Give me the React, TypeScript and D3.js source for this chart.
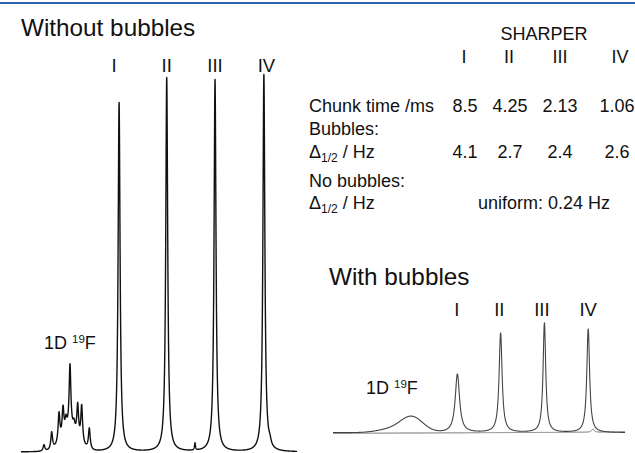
import React from "react";
import * as d3 from "d3";

// ---------- data ----------
const romanLabels = ["I", "II", "III", "IV"];

// Without bubbles: SHARPER peaks (position, height, half-width) in arbitrary units
const leftPeakPos = [35.54, 52.8, 70.3, 88.0];
const leftPeakHeight = [92.6, 99.2, 98.7, 100];
const leftPeakWidth = [0.42, 0.42, 0.42, 0.42];

// 1D 19F multiplet lines (without bubbles)
const multipletPos = [8.33, 11.12, 13.77, 15.22, 16.3, 17.75, 19.2, 20.54, 21.99, 24.75];
const multipletHeight = [1.7, 4.6, 7.7, 7.4, 3.0, 17.2, 2.1, 8.5, 9.8, 5.6];
const multipletWidth = 0.38;
const multipletBase = { pos: 17.75, height: 5.3, sigma: 2.9 };
// small artefacts
const leftArtefactPos = [63.04, 90.2];
const leftArtefactHeight = [1.9, 1.2];
const leftArtefactWidth = [0.2, 0.5];

// With bubbles: SHARPER peaks
const rightPeakPos = [42.6, 57.4, 72.4, 87.4];
const rightPeakHeight = [53.0, 90.0, 99.2, 93.8];
const rightPeakWidth = [0.89, 0.62, 0.55, 0.58];
// broad 1D 19F hump (with bubbles)
const humpPos = [27.05, 20.2];
const humpHeight = [13.6, 3.2];
const humpSigma = [3.77, 4.8];
// second, overlaid trace
const trace2BumpPos = [89.0];
const trace2BumpHeight = [2.7];
const trace2BumpWidth = [0.5];

// table
const tableHeader = "SHARPER";
const chunkTimes = ["8.5", "4.25", "2.13", "1.06"];
const bubbleWidths = ["4.1", "2.7", "2.4", "2.6"];
const uniformText = "uniform: 0.24 Hz";

// ---------- helpers ----------
const lor = (x: number, x0: number, h: number, w: number) => (h * w * w) / ((x - x0) * (x - x0) + w * w);
const gau = (x: number, x0: number, h: number, s: number) => h * Math.exp(-((x - x0) * (x - x0)) / (2 * s * s));

const FONT = "Arial, 'Liberation Sans', Helvetica, sans-serif";

export default function App() {
  const W = 635, H = 453;

  // left spectrum scales
  const xL = d3.scaleLinear().domain([0, 100]).range([21, 297]);
  const yL = d3.scaleLinear().domain([0, 100]).range([452, 75]);
  // right spectrum scales
  const xR = d3.scaleLinear().domain([0, 100]).range([333, 625]);
  const yR = d3.scaleLinear().domain([0, 100]).range([432.7, 322.3]);

  const xs = d3.range(0, 100.0001, 0.02);

  const leftData = xs.map((x) => {
    let v = 0;
    leftPeakPos.forEach((p, i) => (v += lor(x, p, leftPeakHeight[i], leftPeakWidth[i])));
    multipletPos.forEach((p, i) => (v += lor(x, p, multipletHeight[i], multipletWidth)));
    v += gau(x, multipletBase.pos, multipletBase.height, multipletBase.sigma);
    leftArtefactPos.forEach((p, i) => (v += lor(x, p, leftArtefactHeight[i], leftArtefactWidth[i])));
    return [x, v] as [number, number];
  });

  const rightData = xs.map((x) => {
    let v = 0;
    rightPeakPos.forEach((p, i) => (v += lor(x, p, rightPeakHeight[i], rightPeakWidth[i])));
    humpPos.forEach((p, i) => (v += gau(x, p, humpHeight[i], humpSigma[i])));
    return [x, v] as [number, number];
  });

  const right2Data = xs.map((x) => {
    let v = -0.6 + x * 0.012;
    trace2BumpPos.forEach((p, i) => (v += lor(x, p, trace2BumpHeight[i], trace2BumpWidth[i])));
    return [x, v] as [number, number];
  });

  const lineL = d3.line<[number, number]>().x((d) => xL(d[0])).y((d) => yL(d[1]));
  const lineR = d3.line<[number, number]>().x((d) => xR(d[0])).y((d) => yR(d[1]));

  const leftLabelDx = [-5, 0, 0, 2.5];
  const rightLabelDx = [-0.5, -1.3, -2.5, 0];
  const colX = [465, 510, 560, 617];
  const headerX = [464, 509, 560, 620];

  const txt = { fontFamily: FONT, fill: "#111" } as const;

  return (
    <svg width={W} height={H} style={{ position: "absolute", left: 0, top: 0, background: "#fff" }}>
      <rect x={0} y={0} width={W} height={H} fill="#fff" />
      <rect x={0} y={2} width={W} height={2} fill="#2a63ae" />

      {/* titles */}
      <text x={21} y={36} fontSize={24.3} {...txt}>Without bubbles</text>
      <text x={329} y={285} fontSize={24.3} {...txt}>With bubbles</text>

      {/* left spectrum */}
      <path d={lineL(leftData) || ""} fill="none" stroke="#111" strokeWidth={1.4} strokeLinejoin="round" />
      {romanLabels.map((r, i) => (
        <text key={"ll" + i} x={xL(leftPeakPos[i]) + leftLabelDx[i]} y={72} fontSize={18.5} textAnchor="middle" {...txt}>{r}</text>
      ))}
      <text x={44} y={349} fontSize={18} {...txt}>
        1D <tspan fontSize={11.5} dy={-6}>19</tspan><tspan dy={6}>F</tspan>
      </text>

      {/* right spectrum */}
      <path d={lineR(right2Data) || ""} fill="none" stroke="#666" strokeWidth={0.9} />
      <path d={lineR(rightData) || ""} fill="none" stroke="#444" strokeWidth={1.1} strokeLinejoin="round" />
      {romanLabels.map((r, i) => (
        <text key={"rl" + i} x={xR(rightPeakPos[i]) + rightLabelDx[i]} y={316} fontSize={18.5} textAnchor="middle" {...txt}>{r}</text>
      ))}
      <text x={366} y={394} fontSize={18} {...txt}>
        1D <tspan fontSize={11.5} dy={-6}>19</tspan><tspan dy={6}>F</tspan>
      </text>

      {/* table */}
      <text x={544} y={40} fontSize={18} textAnchor="middle" {...txt}>{tableHeader}</text>
      {romanLabels.map((r, i) => (
        <text key={"th" + i} x={headerX[i]} y={63} fontSize={18} textAnchor="middle" {...txt}>{r}</text>
      ))}
      <text x={309} y={111.5} fontSize={18} {...txt}>Chunk time /ms</text>
      {chunkTimes.map((c, i) => (
        <text key={"ct" + i} x={colX[i]} y={111.5} fontSize={18} textAnchor="middle" {...txt}>{c}</text>
      ))}
      <text x={309} y={135} fontSize={18} {...txt}>Bubbles:</text>
      <text x={309} y={157.5} fontSize={18} {...txt}>
        Δ<tspan fontSize={12} dy={4}>1/2</tspan><tspan dy={-4}> / Hz</tspan>
      </text>
      {bubbleWidths.map((c, i) => (
        <text key={"bw" + i} x={colX[i]} y={157.5} fontSize={18} textAnchor="middle" {...txt}>{c}</text>
      ))}
      <text x={309} y={186.5} fontSize={18} {...txt}>No bubbles:</text>
      <text x={309} y={209} fontSize={18} {...txt}>
        Δ<tspan fontSize={12} dy={4}>1/2</tspan><tspan dy={-4}> / Hz</tspan>
      </text>
      <text x={478} y={209} fontSize={18} {...txt}>{uniformText}</text>
    </svg>
  );
}
